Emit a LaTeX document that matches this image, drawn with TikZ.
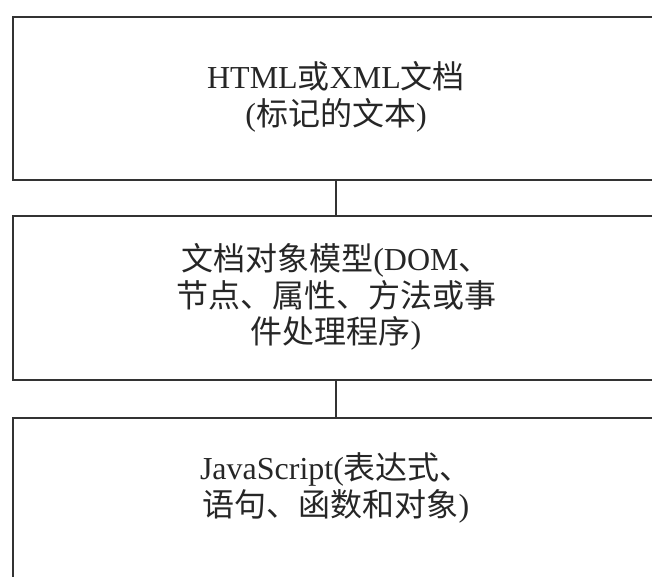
\documentclass[tikz,border=0pt]{standalone}
\usepackage{fontspec}
\setmainfont{Liberation Serif}
\newfontfamily\cjk{Noto Sans CJK SC}
\begin{document}
\begin{tikzpicture}[x=1pt,y=-1pt,
  box/.style={draw=black!80, line width=1.6pt, minimum width=646pt, inner sep=0pt},
  txt/.style={align=center, inner sep=0pt, font=\fontsize{32}{36.5}\selectfont, text=black!85},
  conn/.style={draw=black!80, line width=1.6pt}]
\useasboundingbox (0,0) rectangle (652,577);
\clip (0,0) rectangle (652,577);
\node[box, minimum height=163pt] (b1) at (336,98.5) {};
\node[txt] (t1) at (336,97) {HTML{\cjk 或}XML{\cjk 文档}\\({\cjk 标记的文本})};
\node[box, minimum height=164pt] (b2) at (336,298) {};
\node[txt] (t2) at (336,297) {{\cjk 文档对象模型}(DOM{\cjk 、}\\{\cjk 节点、属性、方法或事}\\{\cjk 件处理程序})};
\node[box, minimum height=182pt] (b3) at (336,509) {};
\node[txt] (t3) at (336,488) {JavaScript({\cjk 表达式、}\\{\cjk 语句、函数和对象})};
\draw[conn] (b1.south) -- (b2.north);
\draw[conn] (b2.south) -- (b3.north);
\end{tikzpicture}
\end{document}
